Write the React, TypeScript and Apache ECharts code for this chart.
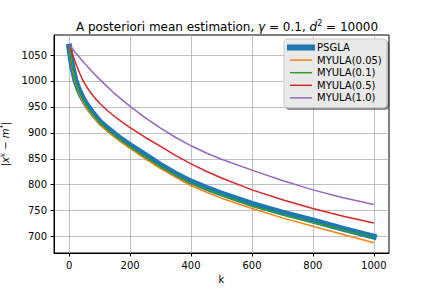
import React, { useEffect, useRef } from "react";
import * as echarts from "echarts";

const ks = [0, 5, 10, 20, 30, 40, 50, 60, 80, 100, 125, 150, 175, 200, 250, 300, 350, 400, 450, 500, 600, 700, 800, 900, 1000];
const psgla = [1066, 1045, 1028, 1002, 985, 972, 961, 952, 936, 922, 909, 897, 886, 876, 857, 838, 821, 806, 794, 783, 763, 746, 731, 715, 700];
const myula005 = [1064, 1042, 1024, 997, 980, 966, 955, 946, 930, 916, 903, 891, 880, 870, 850, 831, 814, 798, 786, 774, 754, 736, 720, 704, 688];
const myula01 = [1065, 1043, 1026, 1000, 982, 969, 958, 949, 933, 919, 906, 894, 883, 873, 853, 835, 818, 803, 791, 780, 759, 742, 727, 712, 698];
const myula05 = [1069, 1061, 1053, 1036, 1021, 1007, 996, 986, 970, 957, 943, 931, 920, 910, 891, 874, 856, 840, 826, 813, 790, 771, 754, 739, 726];
const myula10 = [1069.5, 1066, 1062, 1055, 1048, 1041, 1034, 1028, 1015, 1003, 989, 975, 963, 951, 929, 909, 891, 875, 861, 849, 828, 808, 790, 775, 762];

const seriesNames = ["PSGLA", "MYULA(0.05)", "MYULA(0.1)", "MYULA(0.5)", "MYULA(1.0)"];
const seriesValues = [psgla, myula005, myula01, myula05, myula10];
const colors = ["#1f77b4", "#ff7f0e", "#2ca02c", "#d62728", "#9467bd"];
const xTicks = [0, 200, 400, 600, 800, 1000];
const yTicks = [700, 750, 800, 850, 900, 950, 1000, 1050];

const FONT = "DejaVu Sans";

export default function App() {
  const ref = useRef<HTMLDivElement>(null);
  useEffect(() => {
    const chart = echarts.init(ref.current!, null, { renderer: "svg" });
    chart.setOption({
      animation: false,
      textStyle: { fontFamily: FONT },
      title: {
        text: "A posteriori mean estimation, {i|γ} = 0.1, {i|d}{sup|2} = 10000",
        left: 222,
        top: 14,
        textAlign: "center",
        textStyle: {
          fontFamily: FONT,
          fontSize: 12,
          fontWeight: "normal",
          color: "#000",
          rich: {
            i: { fontFamily: FONT, fontSize: 12, fontStyle: "italic", color: "#000" },
            sup: { fontFamily: FONT, fontSize: 8, color: "#000", padding: [0, 0, 7, 0] },
          },
        },
      },
      grid: {
        left: 54,
        right: 43,
        top: 35,
        bottom: 35,
        containLabel: false,
        outerBoundsMode: "none",
        show: true,
        borderColor: "#000",
        borderWidth: 1,
        backgroundColor: "transparent",
      },
      legend: {
        orient: "vertical",
        left: 284,
        top: 39,
        padding: [3.5, 5, 4.5, 3],
        itemWidth: 22,
        itemHeight: 12,
        itemGap: 2.6,
        itemStyle: { opacity: 0 },
        backgroundColor: "rgba(236,236,236,0.92)",
        borderColor: "#cccccc",
        borderWidth: 1,
        borderRadius: 3,
        shadowColor: "rgba(0,0,0,0.45)",
        shadowOffsetX: 2,
        shadowOffsetY: 2,
        shadowBlur: 0,
        textStyle: { fontFamily: FONT, fontSize: 10, color: "#000", padding: [0, 0, 0, 0] },
        data: seriesNames.map((name, i) => ({
          name,
          lineStyle: { width: i === 0 ? 6 : 1.5 },
        })),
      },
      xAxis: {
        type: "value",
        min: -50,
        max: 1050,
        name: "k",
        nameLocation: "middle",
        nameGap: 18,
        nameTextStyle: { fontFamily: FONT, fontSize: 10, color: "#000" },
        axisLine: { show: true, onZero: false, lineStyle: { color: "#000", width: 1 } },
        axisTick: { show: true, length: 3.5, customValues: xTicks, lineStyle: { color: "#000" } },
        axisLabel: {
          customValues: xTicks,
          margin: 7,
          fontFamily: FONT,
          fontSize: 10,
          color: "#000",
          formatter: (v: number) => String(v),
        },
        splitLine: { show: true, lineStyle: { color: "#b0b0b0", width: 0.8 } },
      },
      yAxis: {
        type: "value",
        min: 668.3,
        max: 1088.6,
        name: "|{i|x}{sup|k} − {i|m}{sup|*}|",
        nameLocation: "middle",
        nameGap: 36,
        nameTextStyle: {
          fontFamily: FONT,
          fontSize: 10,
          color: "#000",
          rich: {
            i: { fontFamily: FONT, fontSize: 10, fontStyle: "italic", color: "#000" },
            sup: { fontFamily: FONT, fontSize: 7, color: "#000", padding: [0, 0, 6, 0] },
          },
        },
        axisLine: { show: true, onZero: false, lineStyle: { color: "#000", width: 1 } },
        axisTick: { show: true, length: 3.5, customValues: yTicks, lineStyle: { color: "#000" } },
        axisLabel: {
          customValues: yTicks,
          margin: 7,
          fontFamily: FONT,
          fontSize: 10,
          color: "#000",
          formatter: (v: number) => String(v),
        },
        splitLine: { show: true, lineStyle: { color: "#b0b0b0", width: 0.8 } },
      },
      series: seriesNames.map((name, i) => ({
        name,
        type: "line",
        data: ks.map((k, j) => [k, seriesValues[i][j]]),
        symbol: "none",
        showSymbol: false,
        smooth: false,
        color: colors[i],
        lineStyle: { color: colors[i], width: i === 0 ? 6 : 1.5, cap: i === 0 ? "square" : "butt", join: "round" },
        z: 2 + i,
      })),
    });
    return () => chart.dispose();
  }, []);
  return <div ref={ref} style={{ width: 432, height: 288, position: "absolute", left: 0, top: 0 }} />;
}
